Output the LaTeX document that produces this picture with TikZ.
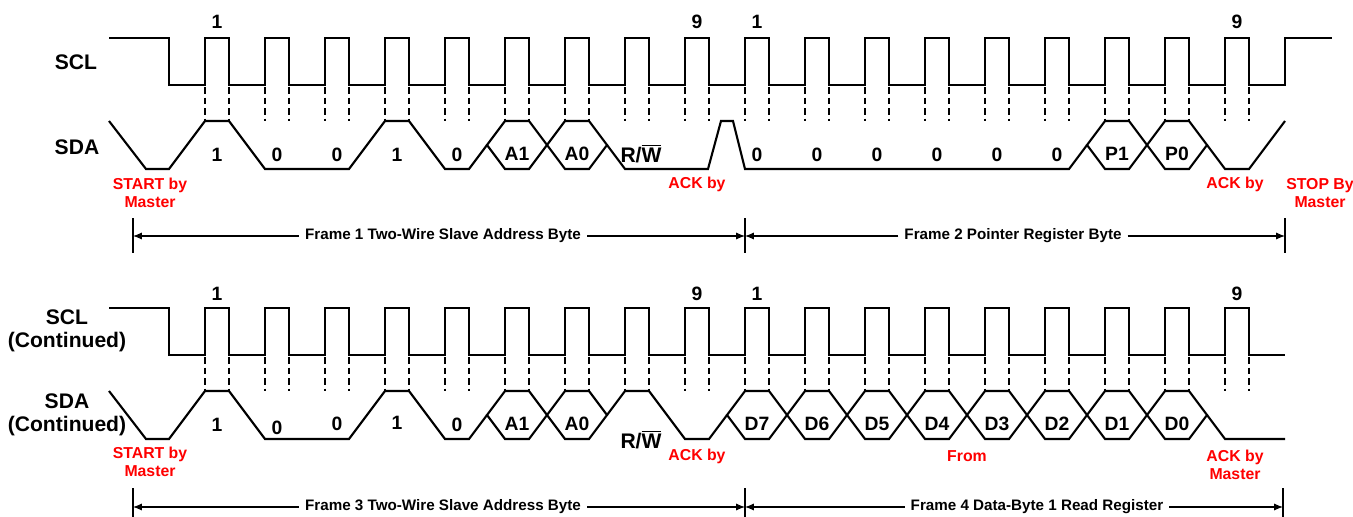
\documentclass[tikz,border=0pt]{standalone}
\usepackage{fontspec}
\setmainfont{Liberation Sans}
\usetikzlibrary{arrows.meta}
\tikzset{
  wave/.style={line width=1.2pt},
  guide/.style={line width=0.6pt, dash pattern=on 3.8pt off 2.2pt},
  sig/.style={font=\fontsize{12}{13}\selectfont\bfseries, align=center},
  bit/.style={font=\fontsize{11}{13}\selectfont\bfseries},
  note/.style={font=\fontsize{9}{10.2}\selectfont\bfseries, text=red, align=center},
  framelabel/.style={font=\fontsize{8.65}{10}\selectfont\bfseries},
  spanarrow/.style={line width=0.6pt, -{Latex[length=5pt, width=4pt]}},
  bound/.style={line width=0.8pt},
}

\begin{document}
\begin{tikzpicture}[x=0.02cm, y=-0.02cm]
\useasboundingbox (0,0) rectangle (1353,517);

% first transfer
\node[sig] (scl1) at (76,62) {SCL};
\node[sig] (sda1) at (77,147) {SDA};

\draw[wave] (109,38) -- (169,38) -- (169,85)
  \foreach \r in {205,265,...,1225} {-- (\r,85) -- (\r,38) -- (\r+24,38) -- (\r+24,85)}
  -- (1285,85) -- (1285,38) -- (1332,38);
\foreach \r in {205,265,...,1225} {
  \draw[guide] (\r,87) -- (\r,121);
  \draw[guide] (\r+24,87) -- (\r+24,121);
}

\draw[wave] (109,121) -- (146,169) -- (169,169) -- (205,121) -- (229,121) -- (265,169)
  -- (349,169) -- (385,121) -- (409,121) -- (445,169) -- (469,169) -- (487,145);
\draw[wave] (607,145) -- (625,169) -- (708,169) -- (721,121) -- (733,121) -- (745,169)
  -- (1069,169) -- (1087,145);
\draw[wave] (1207,145) -- (1225,169) -- (1249,169) -- (1285,121);

\node[bit] (n1) at (217,22) {1};
\node[bit] (n9) at (697,22) {9};
\node[bit] (m1) at (757,22) {1};
\node[bit] (m9) at (1237,22) {9};

\foreach \x/\t in {217/1, 277/0, 337/0, 397/1, 457/0, 757/0, 817/0, 877/0, 937/0, 997/0, 1057/0}
  \node[bit] (b\x) at (\x,155) {\t};
\node[bit, font=\fontsize{12}{13}\selectfont\bfseries] (rw1) at (641,154) {R/$\overline{\mbox{W}}$};

\node[note] (start1) at (150,193) {START by\\Master};
\node[note] (ack1) at (697,184) {ACK by};
\node[note] (ack2) at (1235,184) {ACK by};
\node[note] (stop1) at (1320,193) {STOP By\\Master};

\draw[bound] (133,218) -- (133,253);
\draw[bound] (745,218) -- (745,253);
\draw[bound] (1285,218) -- (1285,253);
\coordinate (e0) at (133,236);
\coordinate (e1) at (745,236);
\coordinate (e2) at (1285,236);
\node[framelabel] (fr1) at (443,236) {Frame 1 Two-Wire Slave Address Byte};
\node[framelabel] (fr2) at (1013,236) {Frame 2 Pointer Register Byte};
\draw[spanarrow] (fr1) -- (e0);
\draw[spanarrow] (fr1) -- (e1);
\draw[spanarrow] (fr2) -- (e1);
\draw[spanarrow] (fr2) -- (e2);

% second transfer
\node[sig] (scl2) at (67,331) {SCL\\(Continued)};
\node[sig] (sda2) at (67,415) {SDA\\(Continued)};

\draw[wave] (109,308) -- (169,308) -- (169,355)
  \foreach \r in {205,265,...,1225} {-- (\r,355) -- (\r,308) -- (\r+24,308) -- (\r+24,355)}
  -- (1285,355);
\foreach \r in {205,265,...,1225} {
  \draw[guide] (\r,357) -- (\r,391);
  \draw[guide] (\r+24,357) -- (\r+24,391);
}

\draw[wave] (109,391) -- (146,439) -- (169,439) -- (205,391) -- (229,391) -- (265,439)
  -- (349,439) -- (385,391) -- (409,391) -- (445,439) -- (469,439) -- (487,415);
\draw[wave] (607,415) -- (625,391) -- (649,391) -- (685,439) -- (709,439) -- (727,415);
\draw[wave] (1207,415) -- (1225,439) -- (1285,439);

\node[bit] (k1) at (217,294) {1};
\node[bit] (k9) at (697,294) {9};
\node[bit] (j1) at (757,294) {1};
\node[bit] (j9) at (1237,294) {9};

\foreach \x/\y/\t in {217/425/1, 277/428/0, 337/424/0, 397/423/1, 457/425/0}
  \node[bit] (c\x) at (\x,\y) {\t};
\node[bit, font=\fontsize{12}{13}\selectfont\bfseries] (rw2) at (641,440) {R/$\overline{\mbox{W}}$};

% data cells
\foreach \r/\y/\t in {505/121/A1, 565/121/A0, 1105/121/P1, 1165/121/P0,
    505/391/A1, 565/391/A0, 745/391/D7, 805/391/D6, 865/391/D5, 925/391/D4,
    985/391/D3, 1045/391/D2, 1105/391/D1, 1165/391/D0} {
  \draw[wave] (\r-18,\y+24) -- (\r,\y) -- (\r+24,\y) -- (\r+42,\y+24)
    -- (\r+24,\y+48) -- (\r,\y+48) -- cycle;
  \node[bit] (h\r-\y) at (\r+12,\y+33) {\t};
}

\node[note] (start2) at (150,462) {START by\\Master};
\node[note] (ack3) at (697,456) {ACK by};
\node[note] (from1) at (967,456) {From};
\node[note] (ack4) at (1235,465) {ACK by\\Master};

\draw[bound] (133,488) -- (133,517);
\draw[bound] (745,488) -- (745,517);
\draw[bound] (1283,488) -- (1283,517);
\coordinate (g0) at (133,507);
\coordinate (g1) at (745,507);
\coordinate (g2) at (1283,507);
\node[framelabel] (fr3) at (443,507) {Frame 3 Two-Wire Slave Address Byte};
\node[framelabel] (fr4) at (1037,507) {Frame 4 Data-Byte 1 Read Register};
\draw[spanarrow] (fr3) -- (g0);
\draw[spanarrow] (fr3) -- (g1);
\draw[spanarrow] (fr4) -- (g1);
\draw[spanarrow] (fr4) -- (g2);

\end{tikzpicture}
\end{document}
